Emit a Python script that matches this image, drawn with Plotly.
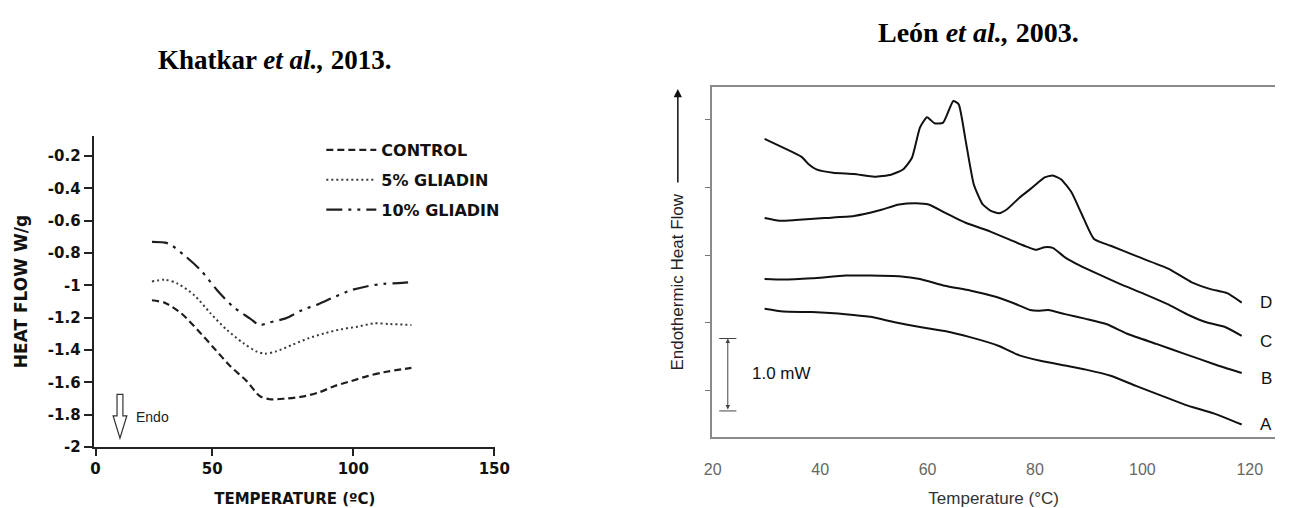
import plotly.graph_objects as go

W, H = 1290, 508

# ---------------- data: left panel (Khatkar et al., 2013) ----------------
ctrl_x = [28.6, 33.2, 39.0, 44.8, 50.6, 56.4, 62.2, 66.8, 70.3, 76.0, 81.8, 87.6, 93.4, 99.2, 105.0, 110.8, 120.6]
ctrl_y = [-1.092, -1.108, -1.173, -1.276, -1.388, -1.50, -1.592, -1.684, -1.704, -1.70, -1.688, -1.663, -1.622, -1.592, -1.561, -1.537, -1.51]

g5_x = [28.6, 33.2, 37.8, 43.6, 49.4, 55.2, 61.0, 65.6, 68.5, 72.6, 78.4, 84.1, 89.9, 95.7, 101.5, 107.3, 113.1, 120.6]
g5_y = [-0.976, -0.965, -0.99, -1.061, -1.173, -1.276, -1.357, -1.408, -1.422, -1.408, -1.367, -1.327, -1.296, -1.271, -1.255, -1.235, -1.239, -1.245]

g10_x = [28.6, 34.4, 40.2, 46.0, 51.7, 57.5, 63.3, 66.8, 70.3, 76.0, 81.8, 87.6, 93.4, 99.2, 105.0, 110.8, 116.0, 120.6]
g10_y = [-0.731, -0.741, -0.816, -0.908, -1.03, -1.133, -1.204, -1.245, -1.229, -1.204, -1.153, -1.116, -1.071, -1.03, -1.005, -0.99, -0.986, -0.98]

left_series = ["CONTROL", "5% GLIADIN", "10% GLIADIN"]
left_yticks = [-0.2, -0.4, -0.6, -0.8, -1.0, -1.2, -1.4, -1.6, -1.8, -2.0]
left_ytext = ["-0.2", "-0.4", "-0.6", "-0.8", "-1", "-1.2", "-1.4", "-1.6", "-1.8", "-2"]
left_xtext = ["0", "50", "100", "150"]

# ---------------- data: right panel (León et al., 2003) ----------------
D_x = [29.65, 33.1, 36.6, 37.8, 39.3, 42.4, 46.3, 50.1, 53.2, 55.5, 57.1, 58.6, 59.9, 61.3, 62.9, 64.8, 65.8, 67.1, 68.6, 70.2, 71.7, 73.3, 74.8, 77.1, 79.5, 81.8, 83.3, 84.9, 86.8, 88.7, 91.0, 94.1, 98.8, 104.9, 109.2, 112.7, 115.8, 118.5]
D_y = [4.72, 4.59, 4.45, 4.35, 4.27, 4.22, 4.20, 4.16, 4.19, 4.27, 4.44, 4.89, 5.04, 4.95, 4.96, 5.28, 5.23, 4.69, 4.05, 3.76, 3.66, 3.62, 3.68, 3.85, 4.00, 4.15, 4.18, 4.12, 3.93, 3.61, 3.24, 3.14, 2.99, 2.80, 2.60, 2.50, 2.44, 2.30]

C_x = [29.65, 32.4, 35.4, 40.8, 46.3, 50.9, 54.7, 57.8, 60.2, 63.2, 67.1, 71.7, 75.6, 78.7, 80.2, 81.8, 83.3, 85.6, 88.3, 91.8, 95.7, 100.3, 104.9, 108.8, 111.9, 115.4, 118.5]
C_y = [3.55, 3.51, 3.52, 3.55, 3.58, 3.66, 3.75, 3.77, 3.75, 3.63, 3.48, 3.35, 3.22, 3.12, 3.08, 3.12, 3.11, 2.97, 2.85, 2.72, 2.58, 2.43, 2.27, 2.11, 2.01, 1.94, 1.81]

B_x = [29.65, 33.1, 38.5, 44.7, 49.3, 54.7, 58.6, 63.2, 67.9, 72.5, 76.4, 79.1, 80.6, 82.5, 85.6, 89.5, 93.4, 97.2, 102.6, 108.0, 113.4, 118.5]
B_y = [2.65, 2.64, 2.66, 2.70, 2.70, 2.69, 2.65, 2.55, 2.48, 2.39, 2.28, 2.19, 2.18, 2.19, 2.13, 2.06, 1.98, 1.84, 1.69, 1.54, 1.39, 1.26]

A_x = [29.65, 33.1, 38.5, 44.7, 49.3, 53.9, 58.6, 63.2, 67.9, 73.3, 77.1, 81.0, 85.6, 89.5, 94.1, 98.8, 103.4, 108.0, 113.4, 118.5]
A_y = [2.21, 2.17, 2.16, 2.13, 2.09, 2.01, 1.94, 1.88, 1.79, 1.66, 1.52, 1.44, 1.37, 1.31, 1.22, 1.07, 0.93, 0.79, 0.66, 0.50]

right_labels = ["D", "C", "B", "A"]
right_label_y = [2.30, 1.72, 1.18, 0.50]
right_xticks = [20, 40, 60, 80, 100, 120]


def pxx(x):
    return x / W


def pxy(y):
    return 1 - y / H


fig = go.Figure()

dark = "#1e1e1e"
left_styles = [
    dict(color=dark, width=2.2, dash="7px,4px"),
    dict(color="#3a3a3a", width=2.0, dash="2px,3px"),
    dict(color=dark, width=2.2, dash="16px,6px,3px,6px,3px,6px"),
]
for i, (xs, ys) in enumerate([(ctrl_x, ctrl_y), (g5_x, g5_y), (g10_x, g10_y)]):
    fig.add_trace(go.Scatter(
        x=xs, y=ys, mode="lines", name=left_series[i],
        line=dict(shape="spline", smoothing=0.8, **left_styles[i]),
        xaxis="x", yaxis="y", legendgroup=f"g{i}", showlegend=True,
    ))

for xs, ys in [(D_x, D_y), (C_x, C_y), (B_x, B_y), (A_x, A_y)]:
    fig.add_trace(go.Scatter(
        x=xs, y=ys, mode="lines", showlegend=False,
        line=dict(color="#111111", width=2, shape="spline", smoothing=0.5),
        xaxis="x2", yaxis="y2",
    ))

bold_sans = "DejaVu Sans"
annotations = []

# titles
annotations.append(dict(
    text="<b>Khatkar <i>et al.,</i> 2013.</b>", xref="paper", yref="paper",
    x=pxx(272), y=pxy(61), showarrow=False, xanchor="center", yanchor="middle",
    font=dict(family="Liberation Serif", size=27, color="#000")))
annotations.append(dict(
    text="<b>León <i>et al.,</i> 2003.</b>", xref="paper", yref="paper",
    x=pxx(988), y=pxy(33), showarrow=False, xanchor="center", yanchor="middle",
    font=dict(family="Liberation Serif", size=28, color="#000")))

# Endo text
annotations.append(dict(
    text="Endo", xref="paper", yref="paper", x=pxx(128), y=pxy(426),
    showarrow=False, xanchor="left", yanchor="middle",
    font=dict(family="Liberation Sans", size=14, color="#222")))

# right y title + arrow
annotations.append(dict(
    text="Endothermic Heat Flow", xref="paper", yref="paper", x=pxx(682), y=pxy(288),
    showarrow=False, textangle=-90, xanchor="center", yanchor="middle",
    font=dict(family="Liberation Sans", size=17, color="#222")))
annotations.append(dict(
    text="", xref="paper", yref="paper", x=pxx(682), y=pxy(91),
    ax=0, ay=95, showarrow=True, arrowhead=2, arrowsize=1.1, arrowwidth=1.5,
    arrowcolor="#111"))

# scale bar
annotations.append(dict(
    text="", xref="x2", yref="y2", axref="x2", ayref="y2",
    x=22.8, y=1.77, ax=22.8, ay=0.70, showarrow=True, arrowhead=2,
    startarrowhead=2, arrowside="end+start", arrowsize=0.9, arrowwidth=1,
    arrowcolor="#444"))
annotations.append(dict(
    text="1.0 mW", xref="x2", yref="y2", x=27.0, y=1.25, showarrow=False,
    xanchor="left", yanchor="middle",
    font=dict(family="Liberation Sans", size=17, color="#111")))

for lab, ly in zip(right_labels, right_label_y):
    annotations.append(dict(
        text=lab, xref="x2", yref="y2", x=124.55, y=ly, showarrow=False,
        xanchor="right", yanchor="middle",
        font=dict(family="Liberation Sans", size=17, color="#111")))

shapes = []
# hollow Endo arrow (pixel outline converted to paper)
ax0 = 114
pts = [(ax0 - 3, 403), (ax0 + 3, 403), (ax0 + 3, 425), (ax0 + 7, 425), (ax0, 448), (ax0 - 7, 425), (ax0 - 3, 425)]
path = "M " + " L ".join(f"{pxx(a):.5f},{pxy(b):.5f}" for a, b in pts) + " Z"
shapes.append(dict(type="path", xref="paper", yref="paper", path=path,
                   line=dict(color="#333", width=1.2), fillcolor="white"))
# scale bar caps
for cy in [1.77, 0.70]:
    shapes.append(dict(type="line", xref="x2", yref="y2", x0=21.2, x1=24.4, y0=cy, y1=cy,
                       line=dict(color="#444", width=1)))

fig.update_layout(
    width=W, height=H, margin=dict(l=0, r=0, t=0, b=0),
    paper_bgcolor="white", plot_bgcolor="white",
    showlegend=True,
    legend=dict(x=pxx(319), y=pxy(136), xanchor="left", yanchor="top",
                bgcolor="rgba(0,0,0,0)", itemwidth=50, tracegroupgap=6,
                font=dict(family=bold_sans, size=16, color="#111", weight="bold"),
                traceorder="grouped"),
    annotations=annotations, shapes=shapes,
    xaxis=dict(domain=[pxx(88), pxx(496)], anchor="y", range=[8.2, 150.3],
               tickvals=[8.6, 50, 100, 150], ticktext=left_xtext,
               ticks="outside", ticklen=7, tickwidth=1.5, tickcolor="#222",
               showline=True, linecolor="#222", linewidth=1.5,
               showgrid=False, zeroline=False, ticklabelstandoff=0,
               tickfont=dict(family=bold_sans, size=15, color="#111", weight="bold"),
               title=dict(text="TEMPERATURE (ºC)", standoff=17,
                          font=dict(family=bold_sans, size=15, color="#111", weight="bold"))),
    yaxis=dict(domain=[pxy(457), pxy(139)], anchor="x", range=[-2, -0.076],
               tickvals=left_yticks, ticktext=left_ytext,
               ticks="outside", ticklen=9, tickwidth=1.5, tickcolor="#222",
               showline=True, linecolor="#222", linewidth=1.5,
               showgrid=False, zeroline=False,
               tickfont=dict(family=bold_sans, size=15, color="#111", weight="bold"),
               title=dict(text="HEAT FLOW W/g", standoff=16,
                          font=dict(family=bold_sans, size=17, color="#111", weight="bold"))),
    xaxis2=dict(domain=[pxx(717), 1.0], anchor="y2", range=[19.9, 124.7],
                tickvals=right_xticks, ticks="", showline=True, mirror=True,
                linecolor="#8a8a8a", linewidth=2, showgrid=False, zeroline=False,
                ticklabelstandoff=16,
                tickfont=dict(family="Liberation Sans", size=16, color="#666"),
                title=dict(text="Temperature (°C)", standoff=19,
                           font=dict(family="Liberation Sans", size=17, color="#333"))),
    yaxis2=dict(domain=[pxy(447), pxy(89)], anchor="x2", range=[0.31, 5.485],
                tickvals=[1, 2, 3, 4, 5], showticklabels=False,
                ticks="outside", ticklen=5, tickcolor="#777", tickwidth=1.2,
                showline=True, mirror=False, linecolor="#8a8a8a", linewidth=2,
                showgrid=False, zeroline=False),
)

fig.write_html("out.html")
